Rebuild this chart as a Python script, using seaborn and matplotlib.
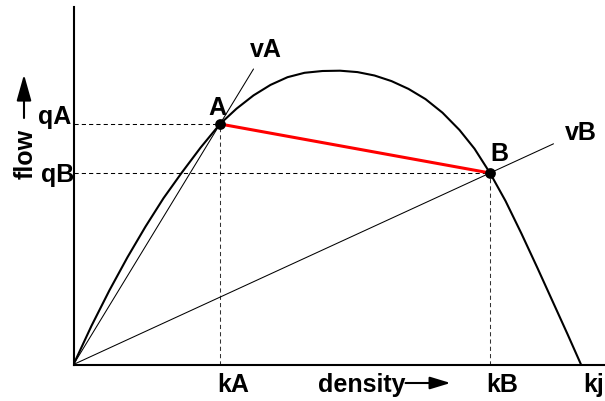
import matplotlib
matplotlib.use("Agg")
import matplotlib.pyplot as plt
import seaborn as sns
import pandas as pd

# Flow-density curve (fundamental diagram), density k vs flow q
density_k = [0, 18, 36, 54, 72, 90, 108, 127, 146.5, 163, 180, 197, 214, 231,
             249, 266.5, 284, 301, 318, 335, 352, 369, 386, 401, 416.5, 432,
             448, 464, 480, 494, 507.5]
flow_q = [0, 38.7, 74.3, 107.3, 137.9, 166.3, 191.5, 216.8, 240.5, 255.8,
          269.1, 279.6, 287.3, 291.7, 293.5, 293.8, 292.4, 289.0, 283.4, 275.6,
          265.4, 251.8, 234.5, 215.8, 191.5, 163.6, 130.8, 96.4, 61.2, 30.4, 0]

# Two operating states on the curve
state_names = ["A", "B"]
state_k = [146.5, 416.5]
state_q = [240.5, 191.5]
# Density reached by each speed ray (vA, vB) drawn from the origin
ray_reach = [180, 480]
jam_density = 507.5

x_labels = ["kA", "kB", "kj"]
y_labels = ["qA", "qB"]

sns.set_style("white")
plt.rcParams["font.family"] = ["Liberation Sans", "DejaVu Sans"]

fig = plt.figure(figsize=(6.05, 4.01), dpi=100)
ax = fig.add_axes([73.5 / 605, (401 - 364.5) / 401,
                   (605 - 73.5) / 605, (364.5 - 7) / 401])

curve = pd.DataFrame({"k": density_k, "q": flow_q})
sns.lineplot(data=curve, x="k", y="q", ax=ax, color="black", lw=1.5,
             sort=False, estimator=None, zorder=3)

# Speed rays through each state
for k, q, reach in zip(state_k, state_q, ray_reach):
    ax.plot([0, reach], [0, reach * q / k], color="black", lw=0.75, zorder=2)

# Dashed guides to the axes
dash = (0, (4, 3))
for k, q in zip(state_k, state_q):
    ax.plot([0, k], [q, q], color="black", lw=0.75, ls=dash, zorder=1)
    ax.plot([k, k], [0, q], color="#333333", lw=0.75, ls=dash, zorder=1)

# Shock connecting A and B
ax.plot(state_k, state_q, color="#ff0000", lw=2.2, zorder=4)
sns.scatterplot(x=state_k, y=state_q, ax=ax, color="black", s=60,
                edgecolor="black", linewidth=0, zorder=5, legend=False)

fs = 18
txt = dict(fontsize=fs, fontweight="bold", color="black", clip_on=False)

# Point and ray labels
ax.text(state_k[0] - 2.5, state_q[0] + 9, state_names[0], ha="center", va="baseline", **txt)
ax.text(state_k[1] + 9.5, state_q[1] + 12, state_names[1], ha="center", va="baseline", **txt)
ax.text(192, 307.5, "vA", ha="center", va="baseline", **txt)
ax.text(507.5, 224.5, "vB", ha="center", va="baseline", **txt)

# Axis value labels
ax.text(state_k[0] + 13, -27.5, x_labels[0], ha="center", va="baseline", **txt)
ax.text(state_k[1] + 12.5, -27.5, x_labels[1], ha="center", va="baseline", **txt)
ax.text(jam_density + 12.5, -27.5, x_labels[2], ha="center", va="baseline", **txt)
ax.text(-2.5, state_q[0], y_labels[0], ha="right", va="baseline", **txt)
ax.text(0.5, state_q[1] - 9, y_labels[1], ha="right", va="baseline", **txt)

# Axis titles with arrows
ax.text(244.5, -27.5, "density", ha="left", va="baseline", **txt)
ax.annotate("", xy=(377, -18.5), xytext=(332, -18.5), annotation_clip=False,
            arrowprops=dict(arrowstyle="-|>,head_length=1.25,head_width=0.38",
                            lw=1.5, color="black", shrinkA=0, shrinkB=0))
ax.text(-40.5, 210.5, "flow", rotation=90, rotation_mode="anchor",
        ha="center", va="baseline", **txt)
ax.annotate("", xy=(-49.5, 290), xytext=(-49.5, 246.5), annotation_clip=False,
            arrowprops=dict(arrowstyle="-|>,head_length=1.6,head_width=0.45",
                            lw=1.5, color="black", shrinkA=0, shrinkB=0))

ax.set_xlim(0, 531.5)
ax.set_ylim(0, 357.5)
ax.set_xticks([])
ax.set_yticks([])
ax.set_xlabel("")
ax.set_ylabel("")
sns.despine(ax=ax)
for side in ("left", "bottom"):
    ax.spines[side].set_linewidth(1.5)
    ax.spines[side].set_color("black")

fig.savefig("out.png", dpi=100)
